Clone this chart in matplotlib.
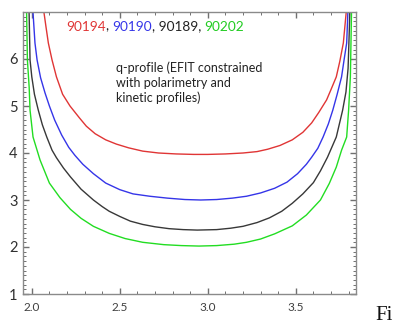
import matplotlib
matplotlib.use('Agg')
import matplotlib.pyplot as plt
from matplotlib.ticker import MultipleLocator

# q-profiles (R in m, q)
x_90194 = [2.065, 2.08, 2.094, 2.115, 2.14, 2.175, 2.217, 2.27, 2.31, 2.36, 2.42, 2.48, 2.55,
           2.63, 2.72, 2.82, 2.92, 3.0, 3.10, 3.20, 3.28, 3.34, 3.41, 3.48, 3.54, 3.59, 3.63,
           3.675, 3.70, 3.73, 3.75, 3.77, 3.789]
q_90194 = [7.1, 6.7, 6.34, 5.98, 5.62, 5.25, 5.0, 4.75, 4.57, 4.41, 4.28, 4.19, 4.11,
           4.04, 4.0, 3.98, 3.97, 3.97, 3.98, 4.0, 4.03, 4.08, 4.16, 4.28, 4.44, 4.64, 4.86,
           5.13, 5.35, 5.62, 5.95, 6.34, 7.1]

x_90190 = [2.005, 2.018, 2.03, 2.05, 2.075, 2.10, 2.13, 2.17, 2.21, 2.245, 2.29, 2.35, 2.42,
           2.50, 2.575, 2.67, 2.77, 2.87, 2.96, 3.05, 3.14, 3.22, 3.30, 3.38, 3.45, 3.51,
           3.56, 3.59, 3.625, 3.655, 3.685, 3.71, 3.735, 3.76, 3.775, 3.789, 3.797]
q_90190 = [7.1, 6.34, 5.98, 5.6, 5.28, 5.0, 4.70, 4.38, 4.12, 3.95, 3.76, 3.56, 3.36,
           3.22, 3.13, 3.08, 3.04, 3.01, 3.0, 3.01, 3.04, 3.08, 3.15, 3.25, 3.38, 3.56,
           3.76, 3.91, 4.10, 4.34, 4.62, 4.91, 5.25, 5.62, 6.0, 6.34, 7.1]

x_90189 = [1.984, 1.99, 2.0, 2.015, 2.037, 2.06, 2.085, 2.115, 2.14, 2.18, 2.22, 2.28, 2.35,
           2.40, 2.44, 2.50, 2.56, 2.63, 2.70, 2.78, 2.86, 2.94, 3.05, 3.13, 3.20, 3.28,
           3.35, 3.42, 3.48, 3.54, 3.60, 3.64, 3.68, 3.73, 3.766, 3.785, 3.797, 3.803, 3.808]
q_90189 = [7.1, 5.98, 5.62, 5.25, 4.91, 4.60, 4.34, 4.06, 3.90, 3.68, 3.49, 3.23, 3.0,
           2.86, 2.76, 2.65, 2.55, 2.48, 2.43, 2.39, 2.37, 2.36, 2.37, 2.40, 2.44, 2.52,
           2.62, 2.76, 2.93, 3.13, 3.37, 3.62, 3.91, 4.34, 4.91, 5.3, 5.8, 6.5, 7.1]

x_90202 = [1.970, 1.975, 1.985, 1.99, 2.007, 2.047, 2.10, 2.16, 2.22, 2.28, 2.35, 2.44, 2.53,
           2.63, 2.75, 2.85, 2.95, 3.05, 3.15, 3.22, 3.30, 3.38, 3.48, 3.56, 3.64, 3.69,
           3.73, 3.76, 3.789, 3.80, 3.81, 3.817]
q_90202 = [7.1, 5.98, 5.4, 4.91, 4.34, 3.85, 3.36, 3.05, 2.80, 2.61, 2.44, 2.29, 2.18,
           2.10, 2.05, 2.03, 2.02, 2.03, 2.06, 2.10, 2.17, 2.28, 2.45, 2.68, 3.0, 3.35,
           3.70, 4.06, 4.34, 4.91, 5.62, 7.1]

xticks = [2.0, 2.5, 3.0, 3.5]
xtick_labels = ['2.0', '2.5', '3.0', '3.5']
yticks = [1, 2, 3, 4, 5, 6]

red, blue, black, green = '#e03535', '#3535e8', '#383838', '#22dd22'

plt.rcParams['font.family'] = ['Lato', 'DejaVu Sans']

fig = plt.figure(figsize=(3.96, 3.24), dpi=100)
ax = fig.add_axes([23/396, 30/324, 333/396, 282/324])

ax.plot(x_90194, q_90194, color=red, lw=1.0)
ax.plot(x_90190, q_90190, color=blue, lw=1.0)
ax.plot(x_90189, q_90189, color=black, lw=1.0)
ax.plot(x_90202, q_90202, color=green, lw=1.0)

ax.set_xlim(1.95, 3.842)
ax.set_ylim(1.0, 7.0)
ax.set_xticks(xticks)
ax.set_xticklabels(xtick_labels)
ax.set_yticks(yticks)
ax.xaxis.set_minor_locator(MultipleLocator(0.1))
ax.yaxis.set_minor_locator(MultipleLocator(0.1))

for s in ax.spines.values():
    s.set_color('#8a8a8a')
    s.set_linewidth(1.0)
ax.tick_params(which='both', direction='in', top=True, right=True, color='#707070')
ax.tick_params(which='major', length=4.5, width=1.0)
ax.tick_params(which='minor', length=2.2, width=0.7)
ax.tick_params(axis='x', labelsize=8.5, labelcolor='#404040', pad=6)
ax.tick_params(axis='y', labelsize=10.5, labelcolor='#303030', pad=4)

# coloured shot numbers, one piece after the other
pieces = [('90194', red), (', ', '#222222'), ('90190', blue),
          (', 90189, ', '#222222'), ('90202', '#22cc22')]
t = ax.text(0.129, 0.934, pieces[0][0], color=pieces[0][1], fontsize=9.8,
            transform=ax.transAxes, va='baseline')
for s, c in pieces[1:]:
    t = ax.annotate(s, xycoords=t, xy=(1, 0), va='bottom', color=c, fontsize=9.8)

ax.text(0.279, 0.826, 'q-profile (EFIT constrained\nwith polarimetry and\nkinetic profiles)',
        transform=ax.transAxes, va='top', ha='left', fontsize=9.0, linespacing=1.3,
        color='#222222')

fig.text(375/396, 4/324, 'Fi', family='Liberation Serif', fontsize=15,
         color='#111111', va='baseline', ha='left')

fig.savefig('out.png', dpi=100)
